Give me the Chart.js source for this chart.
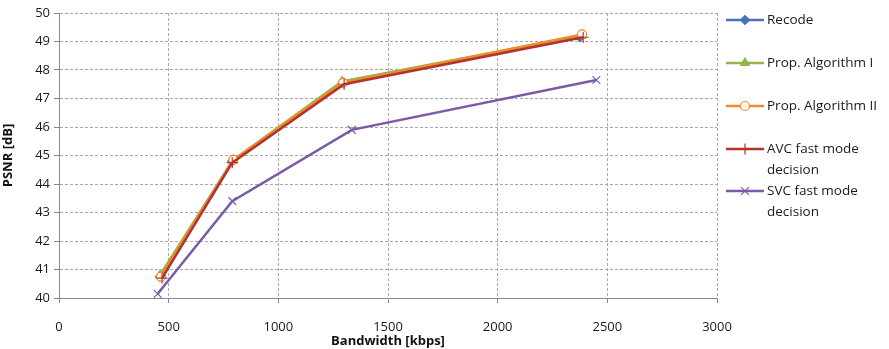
<!DOCTYPE html>
<html>
<head>
<meta charset="utf-8">
<script src="https://cdn.jsdelivr.net/npm/chart.js@4"></script>
<style>
  html,body{margin:0;padding:0;background:#fff;}
  #wrap{width:889px;height:349px;position:relative;}
</style>
</head>
<body>
<div id="wrap"><canvas id="myChart" width="889" height="349"></canvas></div>
<script>
// series data (bandwidth kbps, PSNR dB)
const recodeX=[460,790,1295,2375];
const recodeY=[40.75,44.8,47.55,49.15];
const prop1X=[460,795,1290,2380];
const prop1Y=[40.8,44.85,47.6,49.2];
const prop2X=[465,795,1295,2385];
const prop2Y=[40.75,44.85,47.55,49.25];
const avcX=[470,790,1300,2390];
const avcY=[40.7,44.75,47.5,49.15];
const svcX=[450,790,1335,2450];
const svcY=[40.15,43.4,45.9,47.65];

const xTicks=[0,500,1000,1500,2000,2500,3000];
const yTicks=[40,41,42,43,44,45,46,47,48,49,50];

function pts(xs,ys){return xs.map((x,i)=>({x:x,y:ys[i]}));}

const series=[
  {label:['Recode'],x:recodeX,y:recodeY,color:'#4a72b8',style:'rectRot',fill:true,r:4.5},
  {label:['Prop. Algorithm I'],x:prop1X,y:prop1Y,color:'#93b54a',style:'triangle',fill:true,r:5},
  {label:['Prop. Algorithm II'],x:prop2X,y:prop2Y,color:'#f08a2c',style:'circle',fill:false,r:4.5},
  {label:['AVC fast mode','decision'],x:avcX,y:avcY,color:'#b8312b',style:'cross',fill:false,r:5.5},
  {label:['SVC fast mode','decision'],x:svcX,y:svcY,color:'#7c5aa6',style:'crossRot',fill:false,r:5.5}
];

const font='"Open Sans", sans-serif';

const legendPlugin={
  id:'sideLegend',
  afterDraw(chart){
    const c=chart.ctx;
    const rows=[20,63,106,149,191];
    c.save();
    series.forEach((s,i)=>{
      const y=rows[i];
      c.strokeStyle=s.color;
      c.lineWidth=2.5;
      c.beginPath();c.moveTo(726,y);c.lineTo(764,y);c.stroke();
      c.fillStyle=s.fill?s.color:'#ffffff';
      c.strokeStyle=s.color;
      c.lineWidth=1.2;
      Chart.helpers.drawPoint(c,{pointStyle:s.style,radius:s.r,borderWidth:1.2,rotation:0},745,y);
      c.fillStyle='#1a1a1a';
      c.font='13.5px '+font;
      c.textBaseline='middle';
      s.label.forEach((t,k)=>c.fillText(t,767,y+k*21));
    });
    c.restore();
  }
};

const ctx=document.getElementById('myChart');

new Chart(ctx,{
  type:'scatter',
  data:{
    datasets:series.map((s,i)=>({
      label:s.label.join(' '),
      data:pts(s.x,s.y),
      showLine:true,
      borderColor:s.color,
      backgroundColor:s.fill?s.color:'#ffffff',
      borderWidth:2.5,
      pointStyle:s.style,
      pointRadius:s.r,
      pointBorderWidth:1.2,
      pointBackgroundColor:s.fill?s.color:'#ffffff',
      pointBorderColor:s.color,
      order:5-i
    }))
  },
  options:{
    responsive:false,
    animation:false,
    layout:{padding:{top:13,right:172,left:0,bottom:0}},
    plugins:{
      legend:{display:false},
      tooltip:{enabled:false}
    },
    scales:{
      x:{
        type:'linear',min:0,max:3000,
        afterBuildTicks:(a)=>{a.ticks=xTicks.map(v=>({value:v}));},
        afterFit:(a)=>{a.height=51;},
        grid:{color:'#a8a8a8',tickColor:'#888',tickLength:5},
        border:{color:'#888',width:1,dash:[3,2]},
        ticks:{color:'#1a1a1a',font:{family:font,size:13},padding:16,maxRotation:0,callback:(v)=>String(v)},
        title:{display:true,text:'Bandwidth [kbps]',color:'#111',font:{family:font,size:13,weight:'bold'},padding:{top:-8,bottom:0}}
      },
      y:{
        type:'linear',min:40,max:50,
        afterBuildTicks:(a)=>{a.ticks=yTicks.map(v=>({value:v}));},
        afterFit:(a)=>{a.width=59;},
        grid:{color:'#a8a8a8',tickColor:'#888',tickLength:5},
        border:{color:'#888',width:1,dash:[3,2]},
        ticks:{color:'#1a1a1a',font:{family:font,size:13},padding:4,callback:(v)=>String(v)},
        title:{display:true,text:'PSNR [dB]',color:'#111',font:{family:font,size:13,weight:'bold'},padding:{top:0,bottom:4}}
      }
    }
  },
  plugins:[legendPlugin]
});
</script>
</body>
</html>
